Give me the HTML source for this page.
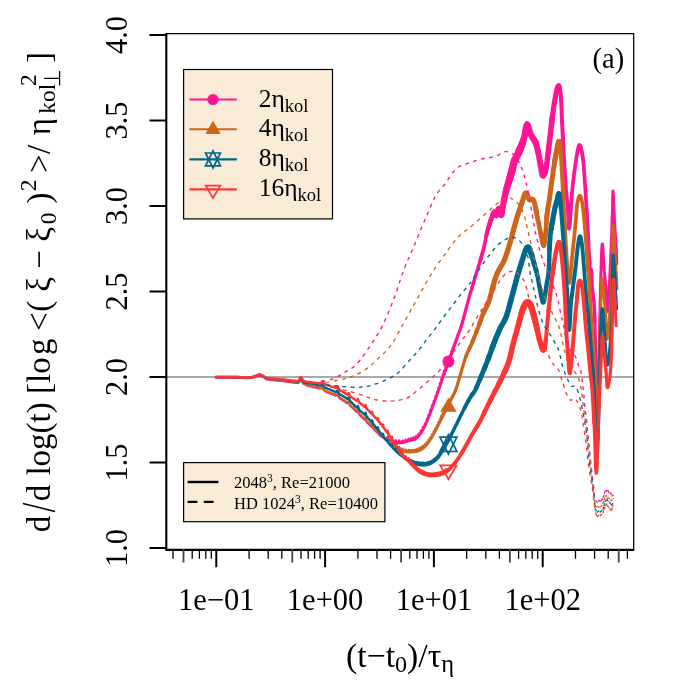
<!DOCTYPE html>
<html><head><meta charset="utf-8"><title>plot</title>
<style>html,body{margin:0;padding:0;background:#fff}svg{display:block;will-change:transform}text{font-family:"Liberation Serif",serif;fill:#000}</style></head><body>
<svg width="700" height="700" viewBox="0 0 700 700">
<rect x="0" y="0" width="700" height="700" fill="#fff"/>
<defs><clipPath id="c"><rect x="166.5" y="33.5" width="467" height="516"/></clipPath></defs>
<line x1="166" y1="377" x2="634" y2="377" stroke="#8c8c8c" stroke-width="1.5"/>
<g clip-path="url(#c)" fill="none" stroke-linejoin="round" stroke-linecap="round">
<path d="M216 377.7L218.1 377.7L221.1 377.7L224.6 377.7L228.3 377.8L231.8 377.8L235 377.8L237.8 377.8L240.7 377.9L243.4 378L245.9 378L248.1 378L250 378L251.4 377.9L252.4 377.7L253.1 377.5L253.7 377.3L254.3 377.1L255 376.9L255.8 376.7L256.6 376.4L257.4 376.1L258.2 375.8L258.9 375.6L259.7 375.6L260.4 375.7L261.2 376L261.9 376.3L262.6 376.7L263.3 377.1L264 377.5L264.6 377.8L265 378.2L265.5 378.6L266 378.9L266.6 379.2L267.4 379.5L268.4 379.7L269.5 379.8L270.8 380L272.1 380.1L273.6 380.2L275 380.3L276.5 380.4L278.1 380.6L279.7 380.8L281.4 380.9L283.2 381.1L285 381.3L287.1 381.6L289.3 381.9L291.7 382.3L293.9 382.6L295.9 382.8L297.4 382.9L298.4 382.8L298.9 382.6L299.1 382.3L299.2 382L299.3 381.6L299.5 381.3L299.8 381L300 380.6L300.2 380.2L300.4 379.9L300.6 379.7L300.9 379.7L301.2 380L301.5 380.5L301.8 381.2L302.1 381.9L302.5 382.6L302.8 383.1L303.1 383.4L303.4 383.7L303.7 383.9L304.1 384.1L304.5 384.3L305 384.5L305.6 384.8L306.3 385.1L307 385.4L307.9 385.7L308.9 386.1L310 386.4L311.4 386.7L313.2 387.1L315.1 387.5L316.9 387.8L318.5 388.1L319.7 388.3L320.5 388.4L320.9 388.5L321.1 388.5L321.2 388.5L321.3 388.4L321.5 388.3L321.7 388.1L322 387.7L322.2 387.2L322.4 386.9L322.6 386.7L322.8 386.7L323 387.1L323.1 387.7L323.3 388.5L323.5 389.3L323.8 390L324.3 390.7L325 391.2L325.9 391.7L326.9 392.1L327.9 392.5L329 392.9L330 393.3L331 393.7L332 394.1L333 394.5L334 394.9L334.9 395.3L335.6 395.7L335.7 395.6L336.3 395.1L336.7 394.7L337 394.5L337.4 394.2L337.5 394.1L338 395.1L338.8 396.9L339.3 397.9L339.9 398.3L341.3 399.2L342.9 400.2L344.5 401.3L346.2 402.5L347.3 403.3L347.9 402.7L348.8 401.9L349.6 404.3L350.2 405.8L351.5 407L353.4 408.7L355.2 410.5L356.7 411.9L357 411.5L357.9 410.5L358.6 412.9L359 414.2L360 415.2L361.2 416.4L362.4 417.5L363.5 418.6L364.5 419.6L364.6 419.5L365.5 418.1L365.7 418.9L366.5 421.7L366.9 422.1L368 423.2L369.2 424.4L370.4 425.5L371.1 426.3L371.6 425.5L372 424.8L372.9 428L374.3 429.4L375.7 431L377 432.4L377.1 432.1L377.8 430.9L378.6 434L378.6 434.1L380 435.5L381.4 436.6L382.2 437.1L382.7 435.9L382.9 435.3L383.6 437.9L383.9 438.1L385.2 438.6L386.4 439L386.9 439.2L387.5 437.3" stroke="#FF1493" stroke-width="2.25"/>
<path d="M386.9 439.2L387.5 437.3L387.6 437.1L388.2 439.6L388.6 439.8L389.6 440.3L390.6 440.8L391.2 441.1L391.5 440.1L391.8 439.1L392.3 441.6L392.4 441.6L393.3 442L394.3 442.3L395.1 442.5L395.4 441.3L395.6 440.3L396.2 442.7L396.6 442.7L397.8 442.9" stroke="#FF1493" stroke-width="2.5"/>
<path d="M396.6 442.7L397.8 442.9L398.7 442.9L399 441.8L399.2 440.7L399.7 443L400.2 443L401.4 442.9L402.1 442.8L402.5 440.8L402.6 441L403 442.6L403.8 442.4L405 442.1L405.2 442L405.6 440L406.1 441.7L406.2 441.7L407.4 441.3L408.2 441L408.6 439L408.6 439.2L409 440.8L409.8 440.6L410.9 440.3L411.1 439.5L411.3 438.3L411.7 440.1L412.3 439.9L413.5 439.5L413.9 437.5L414.3 439.3L414.7 439.1" stroke="#FF1493" stroke-width="2.75"/>
<path d="M414.3 439.3L414.7 439.1L415.7 438.6L416 438.4L416.4 436.3L416.6 437.3L416.7 437.9L417.3 437.4L418 436.8L418.4 436.3L418.7 434.3L418.7 434.1L419 435.6L419.3 435.2L420 434.3L420.6 433.4L420.7 432.7L420.9 431.1L421.2 432.5L421.4 432.2L422.1 431.1L422.8 430L422.9 429.1L423.1 427.6L423.4 428.9L423.6 428.5L424.3 427.1L424.8 426L425 424.5L425.1 423.9L425.4 424.8L425.7 424L426.4 422.4L426.8 421.6L427.1 419.4L427.2 419.8L427.3 420.3L427.9 418.9L428.6 417.1L428.7 416.9L428.9 414.8L429.2 415.6L429.3 415.3L430 413.4L430.5 412.3L430.7 410.1L430.8 410.2L431 410.9L431.5 409.6L432.2 407.6L432.2 407.5L432.5 405.4L432.7 406.2L432.9 405.7L433.6 403.7L433.9 403L434.1 400.9L434.4 401.7L434.4 401.6L435.2 399.5L435.5 398.6L435.8 396.5L435.9 397.1L436 397.4L436.6 395.8L437.1 394.3L437.3 392.2L437.5 392.8L437.5 393.1L437.7 392.6L437.8 392.3L438 391.8L438.2 391.1L438.6 390L438.6 389.9L438.8 387.8L439 388.7L439.1 388.4L439.8 386.5L440.1 385.5L440.3 383.3L440.5 384.2L440.5 384.2L441.3 381.9L441.5 381.1L441.7 379.1L441.9 380L442.1 379.5L442.9 377.1L442.9 377L443.1 375.1L443.3 376L443.8 374.7L444.2 373.3" stroke="#FF1493" stroke-width="3.0"/>
<path d="M443.8 374.7L444.2 373.3L444.4 371.3L444.6 372.3L444.6 372.2L445.6 369.7L445.6 369.6L445.8 367.7L445.9 368.7L446.5 367.1L446.8 366.2L447 364.3L447.2 365.3L447.6 364.3L447.6 364.2L447.6 364.2L447.7 363.9L448 363.1L448.6 361.4L449.7 358.4L451.1 354.4L452.7 349.9L454.3 345.4L455.7 341.4L457 338L458.1 334.8L459.3 331.8L460.4 328.8L461.4 325.7L462.3 322.6L463.2 319.4L464 316.3L464.9 313.1L465.7 310L466.6 306.8L467.4 303.7L468.3 300.5L469.1 297.4L470 294.3L470.8 291.4L471.7 288.7L472.5 286" stroke="#FF1493" stroke-width="3.25"/>
<path d="M471.7 288.7L472.5 286L473.4 283.1L474.3 280L475.4 276.5L476.5 272.7L477.8 268.8L478.9 265L480 261.4L481 258" stroke="#FF1493" stroke-width="3.5"/>
<path d="M480 261.4L481 258L481.9 254.8L482.8 251.7L483.6 248.7L484.3 245.7L484.9 242.8L485.5 240.1L485.9 237.4L486.5 234.7L487.1 232" stroke="#FF1493" stroke-width="3.75"/>
<path d="M486.5 234.7L487.1 232L487.9 229.2L488.8 226.3" stroke="#FF1493" stroke-width="4.0"/>
<path d="M487.9 229.2L488.8 226.3L489.7 223.5" stroke="#FF1493" stroke-width="4.25"/>
<path d="M488.8 226.3L489.7 223.5L490.6 220.8L491.4 218.6" stroke="#FF1493" stroke-width="4.5"/>
<path d="M490.6 220.8L491.4 218.6L492.1 216.7L492.7 215L493.3 213.6" stroke="#FF1493" stroke-width="4.75"/>
<path d="M492.7 215L493.3 213.6L493.8 212.6L494.3 212L494.8 212.2" stroke="#FF1493" stroke-width="5.0"/>
<path d="M494.3 212L494.8 212.2L495.2 213.2L495.6 214.4L496 215.3L496.4 215.5L496.9 214.6" stroke="#FF1493" stroke-width="5.25"/>
<path d="M496.4 215.5L496.9 214.6L497.3 212.9L497.8 210.9L498.3 209.3L498.8 208.6L499.3 209.4" stroke="#FF1493" stroke-width="5.5"/>
<path d="M498.8 208.6L499.3 209.4L499.7 211.3L500.2 213.5L500.7 215L501.2 215L501.8 213.1" stroke="#FF1493" stroke-width="5.75"/>
<path d="M501.2 215L501.8 213.1L502.4 209.8L503 205.8L503.7 201.8L504.3 198.5" stroke="#FF1493" stroke-width="6.0"/>
<path d="M503.7 201.8L504.3 198.5L504.9 195.9L505.4 193.7L505.9 191.6L506.4 189.5" stroke="#FF1493" stroke-width="6.25"/>
<path d="M505.9 191.6L506.4 189.5L507.1 187.1L507.9 184.4" stroke="#FF1493" stroke-width="6.5"/>
<path d="M507.1 187.1L507.9 184.4L508.8 181.5L509.7 178.5" stroke="#FF1493" stroke-width="6.75"/>
<path d="M508.8 181.5L509.7 178.5L510.6 175.6" stroke="#FF1493" stroke-width="7.0"/>
<path d="M509.7 178.5L510.6 175.6L511.4 172.9L512.1 170.3" stroke="#FF1493" stroke-width="7.25"/>
<path d="M511.4 172.9L512.1 170.3L512.7 167.8L513.2 165.5L513.7 163.3L514.3 161.4L514.8 160L515.4 158.9L515.9 158L516.4 157L517.1 155.7L517.9 154L518.8 151.9L519.7 149.8" stroke="#FF1493" stroke-width="7.5"/>
<path d="M518.8 151.9L519.7 149.8L520.6 147.7" stroke="#FF1493" stroke-width="7.25"/>
<path d="M519.7 149.8L520.6 147.7L521.4 145.7L522.1 144" stroke="#FF1493" stroke-width="7.0"/>
<path d="M521.4 145.7L522.1 144L522.7 142.4L523.2 140.8" stroke="#FF1493" stroke-width="6.75"/>
<path d="M522.7 142.4L523.2 140.8L523.7 139.1L524.3 137.1L524.9 134.4L525.4 131.2" stroke="#FF1493" stroke-width="6.5"/>
<path d="M524.9 134.4L525.4 131.2L525.9 128L526.5 125.5L527.1 124.3L527.7 124.9L528.4 126.7L529.1 129.3L529.9 132L530.7 134.3L531.6 136.1L532.7 137.7L533.8 139.3L534.8 141L535.7 142.9" stroke="#FF1493" stroke-width="6.25"/>
<path d="M534.8 141L535.7 142.9L536.4 145L537 147.3L537.6 149.6L538.1 152L538.6 154.3L539.1 156.6L539.5 158.9L539.9 161.2L540.3 163.5L540.7 165.7L541.2 168.1L541.6 170.8L542.1 173.3L542.6 175.1" stroke="#FF1493" stroke-width="6.0"/>
<path d="M542.1 173.3L542.6 175.1L543.2 175.8L543.8 175.4L544.4 174.1L545.1 172L545.7 169.2" stroke="#FF1493" stroke-width="5.75"/>
<path d="M545.1 172L545.7 169.2L546.4 165.7L547.1 161.1L547.8 155.4L548.6 149.1L549.3 142.8L550 137.1L550.6 131.9L551.2 126.8L551.8 121.9L552.3 117.2" stroke="#FF1493" stroke-width="5.5"/>
<path d="M551.8 121.9L552.3 117.2L552.9 112.9L553.5 108.9L554 105.2L554.6 101.7L555.1 98.6L555.7 95.7L556.3 92.9L556.9 90.3L557.5 88" stroke="#FF1493" stroke-width="5.25"/>
<path d="M556.9 90.3L557.5 88L558.1 86.4" stroke="#FF1493" stroke-width="5.0"/>
<path d="M557.5 88L558.1 86.4L558.6 85.7" stroke="#FF1493" stroke-width="4.75"/>
<path d="M558.1 86.4L558.6 85.7L559.1 85.9" stroke="#FF1493" stroke-width="4.5"/>
<path d="M558.6 85.7L559.1 85.9L559.5 86.8" stroke="#FF1493" stroke-width="4.25"/>
<path d="M559.1 85.9L559.5 86.8L559.9 88.5L560.3 91L560.7 94.3L561 98.7L561.3 104.3L561.6 110.5L561.8 116.9L562.1 122.9L562.4 128.5L562.7 134.1L563 139.7" stroke="#FF1493" stroke-width="4.0"/>
<path d="M562.7 134.1L563 139.7L563.3 145.4L563.6 151.4L564 157.8L564.4 164.6L564.8 171.4L565.3 178.1L565.7 184.3L566.1 190L566.6 195.4L567.1 200.6L567.5 205.4L567.9 210L568.2 215.1L568.5 220.6L568.7 225.5L568.9 228.6L569.3 228.6L569.8 224.6L570.3 217.3L570.9 208.3L571.5 199.2L572.1 191.4L572.8 185L573.5 178.9L574.2 173.1L575 167.8L575.7 162.9L576.4 158.1L577.1 153.5L577.9 149.4L578.6 146.4L579.3 145L580 145.4L580.8 147.3L581.6 150.4L582.3 154.1L582.9 158L583.4 162.3L583.8 167.1L584.2 172.5L584.6 178.2L585 184.3L585.5 190.9L585.9 198L586.4 205.4L586.9 212.8L587.3 220L587.7 227.2L588 234.6L588.4 241.8L588.7 248.5L589 254.3L589.3 259.2L589.6 263.5" stroke="#FF1493" stroke-width="3.75"/>
<path d="M589.3 259.2L589.6 263.5L589.8 267.1L590.1 270L590.3 272L590.5 272.5L590.7 271.6L590.9 270.3L591.1 269.4L591.3 270L591.5 272.4L591.7 276.1L591.9 280.3L592.1 284.7L592.4 288.6L592.7 291.8L593.1 294.7L593.4 297.6L593.8 300.9L594.1 305L594.4 310.1L594.6 315.8L594.8 322.1" stroke="#FF1493" stroke-width="3.5"/>
<path d="M594.6 315.8L594.8 322.1L595 328.6L595.2 335L595.4 340.9L595.7 346.4L595.9 352.3L596.2 359.4L596.4 368.6L596.6 382.4L596.9 400.3L597.1 418.4L597.4 432.9L597.6 440" stroke="#FF1493" stroke-width="3.25"/>
<path d="M597.4 432.9L597.6 440L597.8 437.7L598 428.4L598.2 415.3L598.4 401.5L598.6 390L598.8 381L598.9 372.5L599.1 364.2L599.2 355.8L599.4 347.1L599.5 338.1L599.7 329L599.8 319.7L600 310.1L600.2 300L600.5 288L600.9 274.2L601.3 260.8L601.7 250L602.1 244L602.5 244.3L603 249.4L603.4 257.1L603.9 265.1L604.3 271.4L604.7 275.6L605.1 279.3L605.4 282.8L605.8 286.2L606.1 290L606.4 294.9L606.7 300.8L607.1 306.4L607.4 310.5L607.7 311.8L608 309.8L608.4 305.3L608.7 299.2L609 292.1L609.4 285L609.8 277.3L610.2 268.6L610.6 259.5L611 250.7L611.3 242.9L611.6 236.3L611.8 230.5L612 225.2L612.1 220.1L612.3 215L612.5 209.2L612.6 202.8L612.7 197L612.8 192.7L613 191L613.2 192.8L613.5 197.5L613.7 203.6L614 209.9L614.2 215L614.4 218.9L614.6 222.5L614.8 225.8L615 229L615.2 232L615.4 234.8L615.6 237.2L615.8 239.6L615.9 242.1L616.1 245L616.3 248.7L616.4 253.1L616.6 257.5L616.7 261.3L616.8 264" stroke="#FF1493" stroke-width="3.0"/>
<path d="M216 377L218.1 377L221.1 377L224.6 377L228.3 377.1L231.8 377.1L235 377.1L237.8 377.1L240.7 377.2L243.4 377.3L245.9 377.3L248.1 377.3L250 377.3L251.4 377.2L252.4 377L253.1 376.8L253.7 376.6L254.3 376.4L255 376.2L255.8 376L256.6 375.7L257.4 375.4L258.2 375.1L258.9 374.9L259.7 374.9L260.4 375L261.2 375.3L261.9 375.6L262.6 376L263.3 376.4L264 376.8L264.6 377.1L265 377.5L265.5 377.9L266 378.2L266.6 378.5L267.4 378.8L268.4 379L269.5 379.1L270.8 379.3L272.1 379.4L273.6 379.5L275 379.6L276.5 379.7L278.1 379.9L279.7 380.1L281.4 380.2L283.2 380.4L285 380.6L287.1 380.9L289.3 381.2L291.7 381.6L293.9 381.9L295.9 382.1L297.4 382.2L298.4 382.1L298.9 381.9L299.1 381.6L299.2 381.3L299.3 380.9L299.5 380.6L299.8 380.3L300 379.9L300.2 379.5L300.4 379.2L300.6 379L300.9 379L301.2 379.3L301.5 379.8L301.8 380.5L302.1 381.2L302.5 381.9L302.8 382.4L303.1 382.7L303.4 383L303.7 383.2L304.1 383.4L304.5 383.6L305 383.8L305.6 384.1L306.3 384.4L307 384.7L307.9 385L308.9 385.4L310 385.7L311.4 386L313.2 386.4L315.1 386.8L316.9 387.1L318.5 387.4L319.7 387.6L320.5 387.7L320.9 387.8L321.1 387.8L321.2 387.8L321.3 387.7L321.5 387.6L321.7 387.4L322 387L322.2 386.5L322.4 386.2L322.6 386L322.8 386L323 386.4L323.1 387L323.3 387.8L323.5 388.6L323.8 389.3L324.3 390L325 390.5L325.9 391L326.9 391.4L327.9 391.8L329 392.2L330 392.6L331 393L332 393.4L333 393.8L334 394.2L334.9 394.6L335.6 395L335.7 394.9L336.3 394.4L336.7 394L337 393.8L337.4 393.5L337.5 393.4L338 394.4L338.8 396.2L339.3 397.2L339.9 397.6L341.3 398.4L342.9 399.4L344.5 400.5L346.2 401.6L347.3 402.4L347.9 401.8L348.8 401L349.6 403.4L350.2 404.9L351.5 406L353.4 407.8L355.2 409.6L356.7 411L357 410.6L357.9 409.6L358.6 412L359 413.3L360 414.3L361.2 415.5L362.4 416.6L363.5 417.7L364.5 418.7L364.6 418.6L365.5 417.2L365.7 418L366.5 420.8L366.9 421.2L368 422.3L369.2 423.5L370.4 424.6L371.1 425.4L371.6 424.6L372 423.9L372.9 427.1L374.3 428.5L375.7 430L377 431.3L377.1 431.1L377.8 429.8L378.6 432.9L378.6 433L380 434.4L381.4 435.7L382.2 436.4L382.7 435.4L382.9 434.8L383.6 437.6L383.9 437.8L385 438.7L386.1 439.6L386.9 440.2L387.3 439L387.6 438.4L388.2 441.2" stroke="#CD661D" stroke-width="2.25"/>
<path d="M387.6 438.4L388.2 441.2L388.6 441.5L390 442.6L391.2 443.5L391.4 442.9L391.8 441.7L392.3 444.4L392.9 444.8L394.3 446L395.1 446.5L395.6 444.6L395.7 445.1L396.2 447.3L397.1 447.9L398.4 448.7L398.7 448.9L399.2 446.9L399.6 448.9L399.7 449.4L400.8 450L402 450.5" stroke="#CD661D" stroke-width="2.5"/>
<path d="M400.8 450L402 450.5L402.1 450.6L402.5 448.9L403 451L403.1 451L404.3 451.4L405.2 451.6L405.5 450.5L405.6 449.8L406.1 451.8L406.7 451.9L407.9 452.1L408.2 452.1L408.6 450.2L409 452.1L409 452.1L410.2 452.1L410.9 452.1L411.3 450.2L411.4 450.6L411.7 452.1L412.6 452L413.5 451.9L413.9 450.3L413.9 450L414.3 451.8L415.1 451.7L416 451.5L416.3 449.8L416.4 449.5L416.7 451.3L417.5 451.1" stroke="#CD661D" stroke-width="2.75"/>
<path d="M416.7 451.3L417.5 451.1L418.4 450.8L418.6 449.4L418.7 448.8L419 450.5L419.6 450.3L420.6 449.8L420.6 449.8L420.9 447.7L421.2 449.4L421.5 449.3L422.5 448.6L422.8 448.4L423.1 446.3L423.4 447.9L423.4 447.9L424.3 447.1L424.8 446.6L425.1 444.8L425.2 445.5L425.4 446L426.2 445.1L426.8 444.4L427.1 442.6L427.1 443L427.3 443.7L428.1 442.7L428.7 441.9L428.9 440.1L429.1 440.6L429.2 441.2L430 440L430.5 439.3L430.7 437.4L430.9 438.4L431 438.5L431.9 436.9L432.2 436.4L432.5 434.5L432.7 435.5L432.9 435.3L433.8 433.5L433.9 433.4L434.1 431.4L434.4 432.5L434.8 431.8L435.5 430.3L435.7 428.9L435.8 428.4L436 429.5L436.6 428.2L437.1 427.3L437.3 425.4L437.5 426.4L437.6 426.3L438.6 424.4L438.6 424.2L438.8 422.3L439 423.4L439.5 422.5L440.1 421.3L440.3 419.3L440.4 420.1L440.5 420.4L441.4 418.6L441.5 418.4L441.7 416.5" stroke="#CD661D" stroke-width="3.0"/>
<path d="M441.5 418.4L441.7 416.5L441.9 417.5L442.4 416.6L442.9 415.5L443.1 413.7L443.3 414.8L443.4 414.7L444.2 412.8L444.3 412L444.4 411L444.6 412.1L445.3 410.7L445.6 410.2L445.8 408.3L445.9 409.4L446.2 408.8L446.8 407.6L447 405.8L447.1 406.3L447.2 406.9L447.9 405.5L448.4 404.6L449 403.3L449.8 401.8L450.6 400.2L451.4 398.6L452.2 397.1L453.1 395.6L453.9 393.9L454.8 392.1L455.7 390L456.5 387.6L457.4 384.9L458.2 382L459.1 378.9L460 375.7L461.1 372.2L462.2 368.3L463.4 364.3L464.5 360.5L465.7 357.1L466.8 354.2" stroke="#CD661D" stroke-width="3.25"/>
<path d="M465.7 357.1L466.8 354.2L468 351.6L469.1 349.2L470.3 346.9" stroke="#CD661D" stroke-width="3.5"/>
<path d="M469.1 349.2L470.3 346.9L471.4 344.3L472.5 341.6L473.7 338.8" stroke="#CD661D" stroke-width="3.75"/>
<path d="M472.5 341.6L473.7 338.8L474.8 335.9L476 333L477.1 330" stroke="#CD661D" stroke-width="4.0"/>
<path d="M476 333L477.1 330L478.3 326.9L479.4 323.7L480.6 320.4" stroke="#CD661D" stroke-width="4.25"/>
<path d="M479.4 323.7L480.6 320.4L481.7 317.2L482.9 314.3L484.1 311.7" stroke="#CD661D" stroke-width="4.5"/>
<path d="M482.9 314.3L484.1 311.7L485.3 309.3L486.4 307L487.6 304.6L488.6 302" stroke="#CD661D" stroke-width="4.75"/>
<path d="M487.6 304.6L488.6 302L489.6 299.1L490.4 295.9L491.3 292.7L492.1 289.5L492.9 286.5" stroke="#CD661D" stroke-width="5.0"/>
<path d="M492.1 289.5L492.9 286.5L493.7 283.7L494.4 281.1L495.2 278.6L496.1 276.1L497.1 273.5L498.4 270.9L499.8 268.3L501.4 265.7L502.9 262.9L504.3 260L505.6 256.7L506.8 253.2L508 249.6L509 246.1L510 242.9L510.8 240.1L511.6 237.4L512.2 235L512.8 232.5L513.5 230L514.2 227.4L514.9 224.8L515.6 222.3L516.3 219.7L517.1 217.1L517.9 214.5L518.8 211.9L519.6 209.3L520.5 206.8L521.4 204.3L522.3 201.6L523.2 198.8L524 196.1L524.9 194L525.7 192.9L526.5 193.2L527.2 194.5L527.8 196.4L528.5 198.3L529.3 199.5L530.1 199.8L531 199.6L531.9 199.3L532.8 199.5" stroke="#CD661D" stroke-width="5.25"/>
<path d="M531.9 199.3L532.8 199.5L533.6 200.5L534.4 202.6L535.1 205.6L535.8 209L536.5 212.5" stroke="#CD661D" stroke-width="5.0"/>
<path d="M535.8 209L536.5 212.5L537.1 215.7L537.7 218.7L538.4 221.8L539 224.8L539.5 227.6L540 230L540.4 231.8L540.6 233.2L540.9 234.4L541.1 235.6L541.4 237L541.8 238.9L542.2 241.3L542.7 243.5L543.2 245.2L543.6 245.7L544 245L544.4 243.3L544.8 240.9L545.1 238.1L545.5 235L545.8 231.4L546.1 227.1L546.4 222.6L546.7 218.2L547.1 214.3" stroke="#CD661D" stroke-width="4.75"/>
<path d="M546.7 218.2L547.1 214.3L547.5 211.1L547.9 208.2L548.4 205.5L548.9 202.8L549.3 200L549.7 197.2L550 194.4L550.4 191.6L550.8 188.3L551.4 184.3L552.1 179.2L553 173.1L553.9 166.7L554.8 160.7L555.7 155.7" stroke="#CD661D" stroke-width="5.0"/>
<path d="M554.8 160.7L555.7 155.7L556.5 151.4L557.3 147.2L558 143.9L558.7 141.7" stroke="#CD661D" stroke-width="5.25"/>
<path d="M558 143.9L558.7 141.7L559.3 141.4" stroke="#CD661D" stroke-width="5.0"/>
<path d="M558.7 141.7L559.3 141.4L559.8 143.3" stroke="#CD661D" stroke-width="4.75"/>
<path d="M559.3 141.4L559.8 143.3L560.3 147.1" stroke="#CD661D" stroke-width="4.5"/>
<path d="M559.8 143.3L560.3 147.1L560.7 152.1" stroke="#CD661D" stroke-width="4.25"/>
<path d="M560.3 147.1L560.7 152.1L561 157.6L561.4 162.9L561.7 168L562 173.4L562.3 179L562.6 185L562.9 191.4L563.3 198.3L563.7 205.7L564.1 213.4L564.6 221.1L565 228.6" stroke="#CD661D" stroke-width="4.0"/>
<path d="M564.6 221.1L565 228.6L565.4 236.1L565.8 243.8L566.3 251.3L566.7 258.3L567.1 264.3L567.5 269.8L567.9 275.1L568.4 279.5L568.8 282.3L569.3 282.9L569.8 280.7L570.3 276.3L570.9 270.3L571.5 263.6L572.1 257.1L572.8 250.3L573.6 242.7L574.4 234.9L575.1 227.6L575.7 221.4L576.1 216.5L576.4 212.5L576.7 209.1L576.9 206.1L577.3 203.5L577.8 201L578.3 198.8L578.9 197.1L579.4 196L580 195.7L580.5 196.4L581.1 197.8L581.6 199.9L582.2 202.6L582.7 205.7L583.2 209.4L583.7 213.7L584.1 218.4L584.6 223.5L585 228.6L585.4 233.9L585.8 239.6L586.3 245.4L586.7 251.3L587.1 257.1L587.5 262.5L587.9 267.6L588.4 272.9L588.8 278.8L589.3 285.7L589.8 294L590.4 303.5L590.9 313.4L591.5 323.4L592.1 332.9L592.7 341.7L593.3 350.3" stroke="#CD661D" stroke-width="3.75"/>
<path d="M592.7 341.7L593.3 350.3L594 358.7L594.5 367.1L595 375.7L595.4 384.7L595.6 394L595.8 403.2" stroke="#CD661D" stroke-width="3.5"/>
<path d="M595.6 394L595.8 403.2L596 412L596.2 420L596.4 428L596.6 436.4L596.8 443.7L597 448.7L597.2 450L597.4 446.2L597.6 438.1L597.8 427.9L598 417.8L598.2 410L598.4 405.4L598.5 402.7L598.7 400.2L598.8 396.5" stroke="#CD661D" stroke-width="3.25"/>
<path d="M598.7 400.2L598.8 396.5L599 390L599.2 379.5L599.4 366.1L599.6 351.5L599.8 337.4L600 325.7L600.3 316.4L600.6 308.2L600.9 301.2L601.2 295.2L601.4 290L601.6 285.7L601.7 282.3L601.8 279.9L601.9 278.5L602.1 278L602.3 278.6L602.6 280.3L602.9 282.9L603.2 286.2L603.6 290L604 294.8L604.4 300.6L604.9 307L605.3 313.1L605.7 318.6L606 323.9L606.3 329.3L606.5 334.2L606.8 337.7L607.1 339L607.5 337.7L607.9 334.2L608.4 329.3L608.9 323.9L609.3 318.6L609.7 314L610.2 309.4L610.6 304.4L611 298.1L611.4 290L611.7 278.1L612.1 262.8L612.4 247L612.7 233.9L613 226.3L613.4 225.5L613.8 229.6L614.2 236.6L614.6 244.7L615 252L615.4 259.2L615.9 267.6L616.3 276.1L616.7 283.4L617 288.6" stroke="#CD661D" stroke-width="3.0"/>
<path d="M216 377L218.1 377L221.1 377L224.6 377L228.3 377.1L231.8 377.1L235 377.1L237.8 377.1L240.7 377.2L243.4 377.3L245.9 377.3L248.1 377.3L250 377.3L251.4 377.2L252.4 377L253.1 376.9L253.7 376.6L254.3 376.4L255 376.2L255.8 375.9L256.6 375.6L257.4 375.3L258.2 375L258.9 374.8L259.7 374.7L260.4 374.8L261.2 375.1L261.9 375.4L262.6 375.8L263.3 376.2L264 376.6L264.6 376.9L265 377.3L265.5 377.6L266 378L266.6 378.3L267.4 378.5L268.4 378.7L269.5 378.8L270.8 378.9L272.1 378.9L273.6 379L275 379.1L276.5 379.2L278.1 379.4L279.7 379.5L281.4 379.7L283.2 379.8L285 380L287.1 380.2L289.3 380.5L291.7 380.9L293.9 381.1L295.9 381.3L297.4 381.4L298.4 381.3L298.9 381.1L299.1 380.8L299.2 380.5L299.3 380.1L299.5 379.8L299.8 379.5L300 379L300.2 378.6L300.4 378.3L300.6 378L300.9 378L301.2 378.2L301.5 378.7L301.8 379.3L302.1 379.9L302.4 380.5L302.8 381L303.1 381.4L303.4 381.7L303.6 381.9L304 382.1L304.4 382.4L305.1 382.6L306 382.8L307 383L308.2 383.2L309.5 383.4L310.8 383.6L312 383.8L313.3 384.1L314.7 384.4L316.2 384.7L317.5 385L318.8 385.2L319.7 385.4L320.4 385.5L320.8 385.5L321 385.4L321.2 385.3L321.3 385.2L321.5 385L321.7 384.7L322 384.4L322.2 383.9L322.4 383.6L322.6 383.4L322.8 383.4L323 383.7L323.1 384.3L323.3 385L323.5 385.7L323.8 386.4L324.3 387L325 387.5L325.9 387.9L326.9 388.4L327.9 388.8L329 389.2L330 389.6L331 390L332 390.5L333 390.9L334 391.3L334.9 391.7L335.6 392.1L335.7 392L336.3 391.5L336.7 391.1L337 390.7L337.4 390.4L337.5 390.4L338 391.3L338.8 393L339.3 394L339.9 394.4L341.3 395.1L342.9 396L344.5 397L346.2 398.1L347.3 398.9L347.9 398.2L348.8 397.4L349.6 399.8L350.2 401.2L351.5 402.4L353.4 404.3L355.2 406.1L356.7 407.4L357 407L357.9 406L358.6 408.4L359 409.7L360 410.6L361.2 411.6L362.4 412.6L363.5 413.6L364.5 414.5L364.6 414.3L365.5 412.9L365.7 413.7L366.5 416.5L366.9 416.9L368.1 418.3L369.4 419.6L370.6 421L371.1 421.6L371.8 420.6L372 420.3L372.9 423.6L373.9 424.8L374.9 426L375.8 427.2L376.8 428.4L377 428.7L377.7 427.6L377.8 427.4L378.6 430.6L378.6 430.7L379.6 431.9L380.5 433.1L381.4 434.3L382.2 435.3L382.4 434.9L382.9 433.9L383.4 435.8L383.6 437L384.3 437.9L385.2 439.1L386.1 440.2L386.9 441.2L387.1 440.8L387.6 439.7L388 441.8L388.2 442.7L389 443.6L390 444.8L391.1 446L391.2 446.1L391.8 444.4L392.3 447L392.3 447.3L393.5 448.5L394.7 449.7L395.1 450.2L395.6 448.4L395.9 449.7L396.2 451.2" stroke="#00688B" stroke-width="2.5"/>
<path d="M395.9 449.7L396.2 451.2L397 452L398.1 453L398.7 453.5L399.1 452.1L399.2 451.7L399.7 454.4L400.1 454.7L401.1 455.5L402.1 456.3L402.1 456.3L402.5 454.8L403 457L403.9 457.7L404.7 458.3L405.2 458.7L405.5 457.7L405.6 457.1L406.1 459.3L406.3 459.4L407.1 460L408 460.5L408.2 460.6L408.6 459L408.9 461" stroke="#00688B" stroke-width="2.75"/>
<path d="M408.6 459L408.9 461L409 461.1L409.9 461.6L410.9 462.2L411.3 460.5L411.7 462.6L412 462.7L413.1 463.2L413.5 463.3L413.9 461.6L414.3 463.6L414.3 463.6L415.6 464L416 464.1L416.4 462.3L416.7 464.2L417.1 464.3L418.4 464.5L418.6 463.6L418.7 462.7L419 464.7L420.1 464.8L420.6 464.9L420.9 463L421.2 464.9L421.5 464.9" stroke="#00688B" stroke-width="3.0"/>
<path d="M421.2 464.9L421.5 464.9L422.8 465L422.9 464.1L423.1 463.1L423.4 465L424.2 465L424.8 464.9L425.1 463.4L425.4 464.9L426.5 464.7L426.8 464.6L427.1 463.1L427.3 464.5L427.7 464.4L428.7 464.1L428.8 463.1L428.9 462.5L429.2 463.9L430 463.6L430.5 463.4L430.7 461.8L431 463.1L431.2 463L432.2 462.4L432.4 461.1L432.5 460.8L432.7 462.1L433.6 461.6L433.9 461.4L434.1 459.7L434.4 461L434.8 460.7L435.5 460L435.8 458.4L436 459.7L436 459.7L437.1 458.6L437.3 456.9L437.5 458.1L438.1 457.4L438.6 456.7L438.8 455L439 456.2L439.1 456.1L440.1 454.6L440.3 452.8L440.5 453.9L441 453.1L441.5 452.3L441.7 450.5L441.9 451.6L441.9 451.6L442.9 450" stroke="#00688B" stroke-width="3.25"/>
<path d="M441.9 451.6L442.9 450L442.9 450L443.1 448.2L443.3 449.3L443.9 448.4L444.2 447.8L444.4 446L444.6 447.1L444.8 446.8L445.6 445.5L445.8 443.7L445.8 443.8L445.9 444.8L446.7 443.5L446.8 443.2L447 441.4L447.2 442.6L447.6 441.8L447.7 441.7L447.7 441.6L447.8 441.5L448.1 441L448.6 440L449.4 438.3L450.5 436.1L451.8 433.6L453.1 431L454.3 428.6L455.4 426.3L456.6 424L457.7 421.7L458.9 419.4L460 417.1L461.1 414.8L462.3 412.5L463.4 410.2L464.6 407.9L465.7 405.7" stroke="#00688B" stroke-width="3.5"/>
<path d="M464.6 407.9L465.7 405.7L466.9 403.5L468.1 401.4L469.2 399.3" stroke="#00688B" stroke-width="3.75"/>
<path d="M468.1 401.4L469.2 399.3L470.4 397.4L471.4 395.7L472.3 394.4L473 393.5" stroke="#00688B" stroke-width="4.0"/>
<path d="M472.3 394.4L473 393.5L473.7 392.7L474.4 391.6L475.3 390L476.4 387.7L477.5 385" stroke="#00688B" stroke-width="4.25"/>
<path d="M476.4 387.7L477.5 385L478.8 382L480.1 378.9L481.4 375.7" stroke="#00688B" stroke-width="4.5"/>
<path d="M480.1 378.9L481.4 375.7L482.7 372.5L484.1 369.2L485.5 365.8" stroke="#00688B" stroke-width="4.75"/>
<path d="M484.1 369.2L485.5 365.8L486.9 362.4L488.2 359L489.4 355.7" stroke="#00688B" stroke-width="5.0"/>
<path d="M488.2 359L489.4 355.7L490.7 352.3L491.8 348.9L493 345.7" stroke="#00688B" stroke-width="5.25"/>
<path d="M491.8 348.9L493 345.7L494.2 342.5L495.4 339.4L496.7 336.3L497.9 333.4L499.1 330.6L500.3 328L501.4 325.8L502.6 323.8L503.7 322L504.7 320.2L505.7 318L506.6 315.5L507.4 312.9L508.2 310.2L509 307.4L509.8 304.5L510.6 301.6L511.4 298.5L512.2 295.4L513 292.4L513.8 289.5L514.5 286.8L515.2 284.1L515.9 281.6L516.6 279L517.3 276.4L518.1 273.7L518.9 271L519.7 268.3L520.6 265.6L521.4 262.9L522.3 260.1L523.2 257.2L524.1 254.4L525 251.9L525.7 250L526.3 248.7L526.7 247.8L527.1 247.4L527.5 247.1L527.9 247.1L528.3 247.1L528.6 247.3L529 247.7L529.4 248.6L530 250L530.7 252.2L531.6 255" stroke="#00688B" stroke-width="5.5"/>
<path d="M530.7 252.2L531.6 255L532.6 258.2" stroke="#00688B" stroke-width="5.25"/>
<path d="M531.6 255L532.6 258.2L533.5 261.4L534.3 264.3" stroke="#00688B" stroke-width="5.0"/>
<path d="M533.5 261.4L534.3 264.3L535 266.7L535.7 269L536.3 271.1" stroke="#00688B" stroke-width="4.75"/>
<path d="M535.7 269L536.3 271.1L536.9 273.4L537.5 276L538.1 279L538.7 282.4L539.3 285.8L539.9 289.1L540.5 292L541 294.7L541.6 297.4L542.1 299.8L542.5 301.6L543 302.5L543.4 302.3L543.8 301.3L544.2 299.7L544.5 297.7L544.9 295.7L545.3 293.5L545.7 291L546.1 288.3L546.5 285.6L546.9 282.9L547.3 280.7L547.7 278.8L548.1 276.7L548.4 274L548.8 270L549.1 264.3L549.3 257.3L549.5 249.7L549.8 242.3" stroke="#00688B" stroke-width="4.5"/>
<path d="M549.5 249.7L549.8 242.3L550.3 235.7L551 230L551.8 224.6" stroke="#00688B" stroke-width="4.75"/>
<path d="M551 230L551.8 224.6L552.7 219.7" stroke="#00688B" stroke-width="5.0"/>
<path d="M551.8 224.6L552.7 219.7L553.5 215.3L554.3 211.4L554.9 208.2L555.5 205.6L556.1 203.5L556.6 201.7L557.1 200L557.6 198.1L558 196.1L558.5 194.5" stroke="#00688B" stroke-width="5.25"/>
<path d="M558 196.1L558.5 194.5L558.9 193.7" stroke="#00688B" stroke-width="5.0"/>
<path d="M558.5 194.5L558.9 193.7L559.3 194.3L559.7 196.5" stroke="#00688B" stroke-width="4.75"/>
<path d="M559.3 194.3L559.7 196.5L560.1 200" stroke="#00688B" stroke-width="4.5"/>
<path d="M559.7 196.5L560.1 200L560.6 204.4L561 209.3" stroke="#00688B" stroke-width="4.25"/>
<path d="M560.6 204.4L561 209.3L561.4 214.3L561.8 219.5L562.3 225.1L562.7 231.1L563.2 237L563.6 242.9L564 248.5L564.4 254.1L564.9 259.6L565.3 265.4L565.7 271.4L566.1 277.9L566.6 284.9L567.1 291.9L567.5 298.7L567.9 305L568.2 311.4L568.5 318L568.8 324L569 328.3L569.3 330L569.6 328L569.9 323.1L570.2 316.7L570.5 310.2L570.8 305L571.1 301.4L571.5 298.5L571.8 295.8L572.2 293.1L572.6 290L573 286.6L573.5 283.2L574 279.5L574.5 275.6L575 271.4L575.6 266.5L576.2 260.8L576.8 255.1L577.4 249.9L577.9 245.7L578.4 242.5L578.8 239.9L579.2 238L579.6 236.8L580 236.4L580.4 236.8" stroke="#00688B" stroke-width="4.0"/>
<path d="M580 236.4L580.4 236.8L580.8 238L581.3 239.9L581.7 242.5L582.1 245.7L582.5 249.7L583 254.7L583.4 260.1L583.9 265.8L584.3 271.4L584.7 277.1L585.1 283.1L585.6 289.1L586 294.9L586.4 300L586.8 304.1L587.2 307.3L587.7 310.4L588.1 313.9L588.6 318.6L589.1 324.8L589.7 332L590.3 339.7L590.9 347.3L591.4 354.3L591.9 360.3L592.3 365.6L592.8 370.8L593.2 376.4L593.6 382.9L594 390.6L594.4 399.2" stroke="#00688B" stroke-width="3.75"/>
<path d="M594 390.6L594.4 399.2L594.8 408.2L595.2 416.9L595.5 425L595.8 433.3L596.1 442.3L596.4 450.3L596.7 456.1L597 458" stroke="#00688B" stroke-width="3.5"/>
<path d="M596.7 456.1L597 458L597.3 454.8L597.7 447.5L598 438L598.3 428.2L598.6 420L598.8 413.7L599 408L599.1 402.5L599.3 396.7L599.4 390L599.5 382.2L599.7 373.6L599.8 364.6L600 355.6L600.2 347.1L600.5 338.1L600.9 328.4L601.3 319.3L601.7 312.2L602.1 308.6L602.5 309.4L603 313.7L603.4 320.1L603.9 326.9L604.3 332.9L604.7 338.3L605.2 344L605.6 349.7L606 354.7L606.4 358.6L606.7 361.4L607 363.4L607.3 364.6L607.6 364.9L607.9 364.3L608.3 362.6L608.7 360L609.1 356.4L609.6 352.1L610 347.1L610.4 341.5L610.9 335.1L611.3 328L611.8 320.1L612.1 311.4L612.3 300.2L612.5 286.6L612.6 273L612.8 261.8L613 255.4L613.3 255.1L613.7 259.2L614.2 266L614.6 273.5L615 280" stroke="#00688B" stroke-width="3.25"/>
<path d="M614.6 273.5L615 280L615.4 286L615.7 292.7L616.1 299.3L616.4 305L616.6 309" stroke="#00688B" stroke-width="3.0"/>
<path d="M216 377L218.1 377L221.1 377L224.6 377L228.3 377.1L231.8 377.1L235 377.1L237.8 377.1L240.7 377.2L243.4 377.3L245.9 377.3L248.1 377.3L250 377.3L251.4 377.2L252.4 377.1L253.1 376.9L253.7 376.7L254.3 376.4L255 376.2L255.8 375.9L256.6 375.5L257.4 375.2L258.2 374.8L258.9 374.6L259.7 374.5L260.4 374.6L261.2 374.9L261.9 375.3L262.6 375.7L263.3 376.1L264 376.5L264.6 376.8L265 377.2L265.5 377.5L266 377.8L266.6 378.1L267.4 378.3L268.4 378.5L269.5 378.6L270.8 378.7L272.1 378.7L273.6 378.8L275 378.9L276.5 379L278.1 379.1L279.7 379.3L281.4 379.4L283.2 379.5L285 379.7L287.1 379.9L289.3 380.2L291.7 380.5L293.9 380.7L295.9 380.9L297.4 380.9L298.4 380.8L298.9 380.6L299.1 380.2L299.2 379.9L299.3 379.5L299.5 379.2L299.8 378.8L300 378.3L300.2 377.9L300.4 377.4L300.6 377.2L300.9 377.1L301.2 377.3L301.5 377.7L301.8 378.3L302.1 379L302.4 379.5L302.8 380L303.1 380.3L303.4 380.6L303.6 380.8L304 381L304.4 381.2L305.1 381.4L306 381.6L307 381.8L308.2 381.9L309.5 382.1L310.8 382.2L312 382.4L313.3 382.6L314.7 382.8L316.2 383L317.5 383.2L318.8 383.3L319.7 383.4L320.4 383.4L320.8 383.3L321 383.1L321.2 382.9L321.3 382.7L321.5 382.5L321.8 382.2L322 381.9L322.2 381.5L322.4 381.1L322.6 380.9L322.8 380.9L322.9 381.1L323 381.5L323.1 382L323.2 382.6L323.5 383.1L324 383.6L324.7 384L325.7 384.4L326.7 384.9L327.8 385.2L329 385.6L330 386L331 386.4L332 386.7L333 387L334 387.3L334.9 387.6L335.6 387.9L335.7 387.8L336.3 387.2L336.6 386.9L336.9 386.6L337.3 386.3L337.5 386.2L337.8 386.7L338.6 388.4L339.3 389.8L339.8 390.1L341.2 390.9L342.8 391.8L344.5 392.9L346.2 393.9L347.3 394.6L347.9 393.9L348.8 393L349.6 395.1L350.2 396.4L351.5 397.3L353.4 398.5L355.2 399.8L356.7 400.7L357 400.2L357.9 399L358.6 401.2L359 402.4L360 403.1L361.2 404.1L362.4 405L363.5 405.9L364.5 406.8L364.6 406.6L365.5 405.1L365.7 405.9L366.5 408.6L366.9 409L368.1 410.2L369.4 411.4L370.6 412.6L371.1 413.2L371.8 412.2L372 411.8L372.9 415L373.9 416.1L374.9 417.2L375.8 418.2L376.8 419.2L377 419.5L377.7 418.4L377.8 418.1L378.6 421.4L378.6 421.4L379.5 422.5L380.4 423.6L381.4 424.8L382.2 425.9L382.3 425.7L382.9 424.5L383.3 426.1L383.6 427.7L384.3 428.6L385.4 430.1L386.6 431.8L386.9 432.2L387.6 430.8L387.9 432.3L388.2 434L389.1 435.3L390.3 437L391.2 438.3L391.4 437.8" stroke="#FF3535" stroke-width="2.5"/>
<path d="M391.2 438.3L391.4 437.8L391.8 436.8L392.3 440L392.4 440.1L393.4 441.5L394.3 442.9L395.1 444.1L395.2 443.7L395.6 442.6L396.2 445.7L396.2 445.7L397.1 447.1L398.1 448.6L398.7 449.6L399.1 448.6L399.2 448.1" stroke="#FF3535" stroke-width="2.75"/>
<path d="M399.1 448.6L399.2 448.1L399.7 451.1L400 451.6L401 453.1L402 454.5L402.1 454.6L402.5 453.3L402.9 455.3L403 455.8L403.8 456.7L404.6 457.5L405.2 458.1L405.4 457.3L405.6 456.5L406.1 458.8L406.2 458.9L407.1 459.6L408 460.5L408.2 460.7L408.6 459.2L409 461.5L410 462.6" stroke="#FF3535" stroke-width="3.0"/>
<path d="M409 461.5L410 462.6L410.9 463.6L411 463.3L411.3 462.2L411.7 464.4L412.1 464.9L413.2 466L413.5 466.4L413.9 464.8L414.3 467.1L414.3 467.1L415.4 468.2L416 468.7L416.4 467.1L416.6 468.6L416.7 469.3L417.8 470.3L418.4 470.7L418.7 469.1L419 471.1L419 471.3L420.2 472.1" stroke="#FF3535" stroke-width="3.25"/>
<path d="M419 471.3L420.2 472.1L420.6 472.4L420.9 470.7L421.2 472.8L421.4 472.9L422.6 473.5L422.8 473.6L423.1 471.8L423.4 473.9L423.8 474L424.8 474.4L425 473.5L425.1 473L425.4 474.6L426.2 474.8L426.8 474.9L427.1 473.5L427.3 475.1L427.4 475.1L428.6 475.3L428.7 475.3L428.9 473.9L429.2 475.4L429.8 475.5L430.5 475.5L430.7 474L431 475.5L431 475.5L432.1 475.6L432.2 475.5L432.5 474.1L432.7 475.5L433.3 475.5L433.9 475.5L434.1 474L434.4 475.4L434.5 475.4L435.5 475.3L435.7 474.2L435.8 473.8L436 475.3L436.9 475.2L437.1 475.1L437.3 473.6L437.5 475.1" stroke="#FF3535" stroke-width="3.5"/>
<path d="M437.3 473.6L437.5 475.1L438.1 475L438.6 474.9L438.8 473.4L439 474.8L439.3 474.8L440.1 474.6L440.3 473L440.5 474.4L441.5 474.2L441.7 472.8L441.7 472.6L441.9 474L442.9 473.6L442.9 473.6L443.1 472L443.3 473.4L444.1 473L444.2 472.9L444.4 471.3L444.6 472.7L445.3 472.3L445.6 472.1L445.8 470.5L445.9 471.9L446.5 471.5L446.8 471.2L447 469.6L447.2 471L447.6 470.7L447.9 470.5L448.2 470.3L448.6 470L449.2 469.5L450 468.6L451.1 467.3L452.5 465.8L454 464L455.6 462L457.1 460L458.5 457.9L460 455.7L461.4 453.4L462.9 451" stroke="#FF3535" stroke-width="3.75"/>
<path d="M461.4 453.4L462.9 451L464.3 448.6L465.7 446.1L467.1 443.6L468.5 441L469.9 438.4L471.4 435.7L473.1 432.9L474.9 429.9L476.7 426.9L478.5 424" stroke="#FF3535" stroke-width="4.0"/>
<path d="M476.7 426.9L478.5 424L480 421.4L481.2 419.1L482.3 416.9L483.2 414.9L484.1 413L485 411" stroke="#FF3535" stroke-width="4.25"/>
<path d="M484.1 413L485 411L486 409L487 407L487.9 405.1L489 403.1L490 401L491.1 398.9" stroke="#FF3535" stroke-width="4.5"/>
<path d="M490 401L491.1 398.9L492.2 396.7L493.4 394.5L494.5 392.2L495.7 390" stroke="#FF3535" stroke-width="4.75"/>
<path d="M494.5 392.2L495.7 390L496.8 387.8L497.9 385.7L499 383.5L500.2 381.2" stroke="#FF3535" stroke-width="5.0"/>
<path d="M499 383.5L500.2 381.2L501.4 378.6L502.8 375.7L504.2 372.7L505.8 369.4" stroke="#FF3535" stroke-width="5.25"/>
<path d="M504.2 372.7L505.8 369.4L507.2 366L508.5 362.5L509.6 358.8L510.6 354.9L511.5 350.9L512.4 346.9L513.4 343L514.4 339.1L515.5 335.1L516.6 331.2L517.6 327.4L518.6 324L519.5 320.8L520.3 317.8" stroke="#FF3535" stroke-width="5.5"/>
<path d="M519.5 320.8L520.3 317.8L521 315.1L521.7 312.6L522.4 310.5" stroke="#FF3535" stroke-width="5.75"/>
<path d="M521.7 312.6L522.4 310.5L523 308.8L523.5 307.4L524 306.3" stroke="#FF3535" stroke-width="6.0"/>
<path d="M523.5 307.4L524 306.3L524.5 305.4L525 304.6L525.6 303.8L526.2 303.1" stroke="#FF3535" stroke-width="6.25"/>
<path d="M525.6 303.8L526.2 303.1L526.9 302.5L527.6 302.2L528.2 302.3L528.8 302.7L529.4 303.3L530.1 304.3L530.7 305.6L531.4 307.3" stroke="#FF3535" stroke-width="6.5"/>
<path d="M530.7 305.6L531.4 307.3L532.1 309.5L532.9 312.2L533.7 315.1" stroke="#FF3535" stroke-width="6.25"/>
<path d="M532.9 312.2L533.7 315.1L534.5 318.3L535.3 321.4" stroke="#FF3535" stroke-width="6.0"/>
<path d="M534.5 318.3L535.3 321.4L536.1 324.7L536.9 328.3" stroke="#FF3535" stroke-width="5.75"/>
<path d="M536.1 324.7L536.9 328.3L537.7 331.8L538.4 335.2L539.1 338.1L539.7 340.5L540.3 342.6L540.8 344.3L541.2 345.8L541.7 347.1L542.1 348.2L542.5 349.1L542.9 349.7L543.2 349.9" stroke="#FF3535" stroke-width="5.5"/>
<path d="M542.9 349.7L543.2 349.9L543.6 349.7" stroke="#FF3535" stroke-width="5.25"/>
<path d="M543.2 349.9L543.6 349.7L544 349L544.4 348" stroke="#FF3535" stroke-width="5.0"/>
<path d="M544 349L544.4 348L544.8 346.5" stroke="#FF3535" stroke-width="4.75"/>
<path d="M544.4 348L544.8 346.5L545.2 344.5" stroke="#FF3535" stroke-width="4.5"/>
<path d="M544.8 346.5L545.2 344.5L545.6 342L546 338.8" stroke="#FF3535" stroke-width="4.25"/>
<path d="M545.6 342L546 338.8L546.3 334.9L546.7 330.6L547.1 326.1L547.5 321.4L548 316.6L548.5 311.4L549 306.1" stroke="#FF3535" stroke-width="4.0"/>
<path d="M548.5 311.4L549 306.1L549.6 300.8L550.1 295.7L550.6 290.7L551.2 285.7L551.7 280.8L552.3 276.1L552.9 271.4L553.6 266.7" stroke="#FF3535" stroke-width="4.25"/>
<path d="M552.9 271.4L553.6 266.7L554.3 262L555 257.4L555.7 253.4L556.4 250L557 247.2L557.5 244.9L558 243.2L558.5 242.2L559 242.1L559.5 243.1" stroke="#FF3535" stroke-width="4.5"/>
<path d="M559 242.1L559.5 243.1L560 245L560.5 247.6" stroke="#FF3535" stroke-width="4.25"/>
<path d="M560 245L560.5 247.6L560.9 250.8L561.4 254.3L561.9 258.4L562.3 263.3L562.8 268.5L563.2 273.7L563.6 278.6L563.9 282.9L564.2 286.8L564.5 290.8L564.7 295L565 300L565.3 305.9L565.5 312.5L565.8 319.5L566.1 326.4L566.4 332.9L566.8 339.1L567.3 345.4L567.8 351.4L568.2 356.8L568.6 361.4L568.9 365.3L569.1 368.8L569.3 371.5L569.5 373.1L569.8 373.2L570.2 371.7L570.6 368.7L571.1 364.5L571.6 359.6L572.1 354.3L572.7 348L573.3 340.5L573.9 332.7L574.5 325.1L575 318.6L575.5 313.3L575.9 308.6L576.4 304.4L576.8 300.6L577.1 297.1L577.4 293.8L577.6 290.9L577.8 288.3L578 286.1L578.2 284.3L578.5 282.9L578.9 281.8L579.2 281.1L579.6 280.7L580 280.7L580.4 281" stroke="#FF3535" stroke-width="4.0"/>
<path d="M580 280.7L580.4 281L580.8 281.6L581.1 282.6L581.5 284L581.9 285.7L582.2 287.8L582.6 290.2L582.9 293L583.2 296.3L583.6 300L584 304.4L584.4 309.3L584.8 314.7L585.2 320.2L585.7 325.7L586.2 331.3L586.8 337.3L587.5 343.2L588.1 349L588.6 354.3L589.1 359.2L589.5 363.7L589.9 368L590.3 372L590.7 375.7L591 378.6L591.3 380.6L591.6 382.6L591.9 385.5L592.3 390L592.7 396.6L593.2 404.9L593.7 413.9L594.2 423.2" stroke="#FF3535" stroke-width="3.75"/>
<path d="M593.7 413.9L594.2 423.2L594.6 432L595 441.6L595.3 452.4L595.6 462.6L596 470.1L596.3 473L596.6 470.1L597 462.6" stroke="#FF3535" stroke-width="3.5"/>
<path d="M596.6 470.1L597 462.6L597.3 452.4L597.7 441.6L598 432L598.4 423.6L598.7 415L599.1 406.4L599.5 398L599.8 390L600.1 382.2L600.5 374.4L600.8 367L601.1 360.2L601.4 354.3L601.6 348.9L601.8 343.8L602 339.6L602.2 336.8L602.4 335.7L602.7 337L603.1 340.3L603.5 344.9L603.9 349.8L604.3 354.3L604.7 358.6L605.2 363.1L605.6 367.7L606.1 372L606.4 375.7L606.6 378.8L606.8 381.6L606.9 384L607 385.8L607.2 387L607.4 387.6L607.7 387.6L608 387L608.3 385.9L608.6 384.3L609 382.3L609.4 379.9L609.9 376.9L610.3 373.2L610.7 368.6L611 363L611.3 356.6L611.6 349.4L611.8 341.5L612.1 332.9L612.3 322.1L612.6 309L612.8 296L613 285.4L613.3 279.4L613.6 279.4L614 283.9L614.3 290.8L614.7 298.3L615 304.3" stroke="#FF3535" stroke-width="3.25"/>
<path d="M614.7 298.3L615 304.3L615.3 309.2L615.6 314.2L615.8 318.9L616 322.9L616.2 325.8" stroke="#FF3535" stroke-width="3.0"/>
</g>
<g clip-path="url(#c)" fill="none" stroke-linejoin="round" stroke-width="1.35" stroke-dasharray="3.8 4.4">
<path d="M322 382C322.3 381.9 322.4 381.8 324 381.4C325.6 380.9 328.7 380.3 331.4 379.3C334.1 378.3 337.4 376.8 340 375.4C342.6 374 344.9 372.3 347.1 370.9C349.3 369.5 351.2 368.8 353.4 367C355.6 365.2 357.7 363.1 360.3 359.9C362.9 356.7 366.3 351.4 368.9 347.7C371.5 343.9 373.4 341.1 375.7 337.4C378 333.7 380.3 330 382.6 325.4C384.9 320.8 387.3 315.1 389.4 310C391.5 304.9 393.5 299.8 395.4 294.6C397.3 289.5 398.9 284 400.6 279.1C402.3 274.2 403.8 269.7 405.5 265.5C407.2 261.3 408.8 258.1 410.6 254C412.4 249.9 414.2 245.6 416.1 241.2C418 236.8 419.8 231.8 421.7 227.3C423.6 222.8 425.4 218.6 427.3 214.3C429.2 210 431.3 204.7 432.9 201.3C434.4 197.9 435.2 196 436.6 193.9C438 191.8 439.7 190.3 441.2 188.5C442.7 186.7 444 185.3 445.7 182.9C447.4 180.5 449.5 176.8 451.4 174.3C453.3 171.8 455.2 169.5 457.1 167.9C459 166.3 460.5 166 462.9 165C465.3 164 468.5 163 471.4 162.1C474.2 161.2 477.1 160 480 159.3C482.9 158.6 485.8 158.5 488.6 157.9C491.5 157.3 494.7 156.6 497.1 155.7C499.5 154.8 501.2 153.1 502.9 152.4C504.6 151.7 505.4 151.4 507.1 151.7C508.8 152 511 152.7 512.9 154.3C514.8 155.9 516.9 158.6 518.6 161.4C520.3 164.2 521.7 168.1 522.9 171.4C524.1 174.7 524.8 177.6 525.7 181.4C526.7 185.2 527.7 189.5 528.6 194.3C529.5 199.1 530.5 204.5 531.4 210C532.3 215.5 533.4 222.3 534.3 227.1C535.2 231.9 536 234.9 537 239C538 243.1 538.8 247.2 540 251.4C541.2 255.6 542.9 260.6 544.3 264.3C545.7 268 547.3 270.4 548.6 273.5C549.9 276.6 550.8 279.6 552 282.9C553.2 286.2 554.8 289.9 555.9 293.1C557 296.3 557.5 298.5 558.4 302.1C559.2 305.8 560.1 311.1 561 315C561.9 318.9 562.6 320.7 563.6 325.3C564.6 329.9 565.8 338.5 567.1 342.9C568.4 347.2 570 349 571.4 351.4C572.8 353.8 574.5 354.7 575.7 357.1C576.9 359.5 577.8 363.6 578.6 365.7C579.4 367.8 579.9 367.6 580.5 370C581.1 372.4 581.6 376.4 582.1 380.3C582.6 384.2 583.2 388.4 583.7 393.1C584.2 397.8 584.5 403.9 585 408.6C585.5 413.3 586.1 417.1 586.6 421.4C587.1 425.7 587.5 430 587.9 434.3C588.3 438.6 588.8 442.8 589.2 447.1C589.6 451.4 590 455.5 590.5 460C591 464.5 591.5 469.7 592 474C592.5 478.3 593.1 482.3 593.5 486C593.9 489.7 594.4 494.3 594.6 496" stroke="#FF1493"/>
<path d="M326 383C326.4 382.9 326.5 382.6 328.6 382.1C330.7 381.6 335.3 380.7 338.6 380C341.9 379.3 345.5 378.8 348.6 377.9C351.7 376.9 354.4 375.6 357.1 374.3C359.8 373 362.4 371.6 364.8 370C367.2 368.4 369.4 366.7 371.4 365C373.3 363.3 374.4 361.9 376.5 359.9C378.6 357.9 381.6 355.8 384.3 352.9C387 350 390 346.9 392.9 342.6C395.8 338.3 398.5 332.2 401.4 327.1C404.2 322 407.1 316.8 410 311.7C412.9 306.6 415.8 301.4 418.6 296.3C421.5 291.2 424.2 285.8 427.1 280.9C430 276 432.8 271.4 435.7 267.1C438.6 262.8 442 258.3 444.3 255.1C446.6 251.9 447.5 250.5 449.6 247.7C451.7 244.9 454.5 241.1 457 238.4C459.5 235.7 462.5 233.1 464.4 231.5C466.3 229.9 466 230.8 468.6 228.6C471.2 226.4 476.2 221.9 480 218.6C483.8 215.3 488.1 211.5 491.4 208.6C494.7 205.7 497.6 203.1 500 201.4C502.4 199.7 504 198.9 505.7 198.3C507.4 197.7 508.6 197.5 510 197.9C511.4 198.3 512.6 199.4 514.3 200.7C516 202 518.3 203.2 520 205.7C521.7 208.2 523.1 212.1 524.3 215.7C525.5 219.3 526 222.6 527.1 227.1C528.2 231.6 529.5 237.4 530.7 242.9C531.9 248.4 533 254.3 534.3 260C535.6 265.7 537.6 273.3 538.6 277.1C539.6 280.9 539.5 279.8 540.4 282.9C541.3 286 542.8 291.6 544.3 295.7C545.8 299.8 547.7 303.6 549.4 307.3C551.1 311 553.1 314.6 554.6 317.6C556.1 320.6 557.3 322.5 558.4 325.3C559.5 328.1 560.1 330.7 561 334.3C561.9 337.9 562.8 343.5 563.6 347.1C564.5 350.7 565.3 353 566.1 356.1C566.9 359.2 567.2 363.1 568.6 365.7C570 368.2 572.8 369.6 574.3 371.4C575.8 373.2 576.6 374.3 577.6 376.4C578.6 378.5 579.5 380.9 580.2 384.1C581 387.3 581.5 391.6 582.1 395.7C582.7 399.8 583.2 404.3 583.7 408.6C584.2 412.9 584.9 417.1 585.4 421.4C585.9 425.7 586.5 430 587 434.3C587.5 438.6 588.1 442.8 588.6 447.1C589.1 451.4 589.4 455.5 589.9 460C590.4 464.5 591 470 591.5 474.3C592 478.6 592.5 482.2 593 486C593.5 489.8 593.9 493.8 594.2 497C594.5 500.2 594.8 503.8 594.9 505.1" stroke="#CD661D"/>
<path d="M326 385C326.4 385 326.5 384.8 328.6 385C330.7 385.2 335 385.8 338.6 386.1C342.2 386.5 346.4 386.9 350 387.1C353.6 387.3 357.1 387.2 360 387.1C362.9 387 364.7 386.9 367.1 386.4C369.5 385.9 371.7 385.1 374.3 384.3C376.9 383.5 380.3 382.5 382.9 381.4C385.5 380.3 387.6 379.2 390 377.9C392.4 376.6 395.2 375 397.1 373.6C399 372.2 399.2 371.8 401.4 369.5C403.5 367.2 407.1 362.9 410 359.7C412.9 356.5 415.8 353.7 418.6 350.3C421.5 346.9 424.2 342.8 427.1 339.1C430 335.4 432.8 331.9 435.7 328C438.6 324.1 441.4 319.9 444.3 316C447.2 312.1 450 308.6 452.9 304.9C455.8 301.2 458.7 297.1 461.4 293.7C464.1 290.3 467.4 286.4 469.1 284.3C470.8 282.2 468.6 285.4 471.4 281.4C474.2 277.3 481.4 265.9 485.7 260C490 254.1 493.5 249.3 497.1 245.7C500.7 242.1 504.5 240 507.1 238.6C509.7 237.2 511 237.2 512.9 237.4C514.8 237.6 516.7 238.4 518.6 240C520.5 241.6 522.8 244.2 524.3 247.1C525.8 249.9 526.9 252.9 527.9 257.1C528.9 261.4 529.3 268.1 530.1 272.6C530.9 277.1 531.8 280.2 532.7 284.1C533.6 288 534.4 291.8 535.3 295.7C536.2 299.6 536.8 303.2 537.9 307.3C539 311.4 540.4 316.7 541.7 320.1C543 323.5 544.1 325.3 545.6 327.9C547.1 330.5 549 332.8 550.7 335.6C552.4 338.4 554.6 342.2 555.9 344.6C557.2 347 557.7 347.2 558.6 350C559.5 352.8 560.5 357.8 561.4 361.4C562.3 365 563.2 368.3 564.3 371.4C565.4 374.5 566.8 377.6 567.9 380C569 382.4 570 385.1 571.2 386.1C572.4 387.1 574 385.4 575.1 386.1C576.2 386.9 576.8 388.4 577.6 390.6C578.5 392.9 579.3 396.2 580.2 399.6C581.1 403 582 407.5 582.8 411.1C583.5 414.7 584.1 417.5 584.7 421.4C585.3 425.3 586.1 430 586.6 434.3C587.1 438.6 587.5 442.8 587.9 447.1C588.3 451.4 588.7 455.5 589.2 460C589.7 464.5 590.4 469.7 591 474C591.6 478.3 592.3 482.2 592.8 486C593.3 489.8 593.6 493.2 594 497C594.4 500.8 594.8 506.7 594.9 508.6" stroke="#00688B"/>
<path d="M335 388C335.6 388.1 336.6 388.2 338.6 388.6C340.6 389.1 344 389.9 347.1 390.7C350.2 391.5 354 392.7 357.1 393.6C360.2 394.6 363.3 395.6 365.7 396.4C368.1 397.2 369 397.9 371.4 398.6C373.8 399.3 377.1 400 380 400.4C382.9 400.8 386 401.1 388.6 401.1C391.2 401.2 393.3 401 395.7 400.7C398.1 400.4 400.5 400 402.9 399.3C405.3 398.6 406.7 398.7 410 396.4C413.3 394.1 417.7 390.3 422.9 385.7C428.1 381.1 436.4 374.1 441.4 368.6C446.4 363.1 449.6 357.5 452.9 352.9C456.2 348.3 458.7 344.6 461.4 340.9C464.1 337.2 466 335.4 469.1 330.6C472.2 325.9 477.1 317.1 480 312.4C482.9 307.6 484.2 305.5 486.4 302.1C488.5 298.7 490.8 295.3 492.9 291.9C495 288.5 497.2 284.6 499.3 281.6C501.4 278.6 503.6 275.6 505.7 273.9C507.8 272.2 510 271.3 512.1 271.3C514.2 271.3 516.7 272.4 518.6 273.9C520.5 275.4 522.3 277.7 523.7 280.3C525.1 282.9 526 286.3 526.9 289.3C527.8 292.3 528.2 295.5 528.9 298.3C529.6 301.1 530 302.4 531 306C532 309.6 533.7 314.8 535 320C536.3 325.2 537.8 332.7 539 337C540.2 341.3 540.9 343.8 542 346C543.1 348.2 544.4 347.9 545.7 350C547 352.1 548.6 356 550 358.6C551.4 361.2 552.9 363.8 554.3 365.7C555.7 367.6 557.4 367.9 558.6 370C559.8 372.1 560.7 376.5 561.4 378.6C562.1 380.8 562 380.3 562.9 382.9C563.8 385.5 565.4 391.5 566.7 394.4C568 397.3 569.3 399.5 570.6 400.2C571.9 400.9 573.2 398 574.4 398.3C575.6 398.6 576.5 400 577.6 402.1C578.7 404.2 580 407.9 580.9 411.1C581.8 414.3 582.2 417.5 582.8 421.4C583.4 425.3 584.1 430 584.7 434.3C585.3 438.6 586.1 442.8 586.6 447.1C587.1 451.4 587.3 455.5 587.9 460C588.5 464.5 589.3 469.7 590 474C590.7 478.3 591.4 482.2 592 486C592.6 489.8 593.1 493.7 593.5 497C593.9 500.3 594.3 503.3 594.6 506C594.9 508.7 595.3 511.9 595.4 513.1" stroke="#FF3535"/>
</g>
<g fill="none" stroke-linejoin="round" stroke-width="1.3" stroke-dasharray="3 0.9">
<path d="M595.4 500.6L597.7 502.3L599.5 500.5L601.1 501.5L603.4 497.1L605.1 490.3L606.2 491.2L607.4 489.7L609.7 493.7L610.8 493L612 496L613.7 494.9" stroke="#FF1493"/>
<path d="M594.9 505.1L596.6 507.6L598 506.4L599.4 507.6L602.3 505.1L604.6 498.3L606.3 495.4L607.7 497.8L609.1 498.3L611.4 500.8L613.7 498.3" stroke="#CD661D"/>
<path d="M594.9 508.6L597.1 512.2L598.6 511L600 512.2L602.9 509.7L605.1 501.7L606.9 498.9L608 501L609.1 501.7L611.4 505.3L613.7 502.3" stroke="#00688B"/>
<path d="M595.4 513.1L597.1 516.8L598.6 515L600 515.8L602.9 513.1L605.1 506.3L606.9 504L608 506.5L609.1 507.4L611.4 511L613.1 505.1" stroke="#FF3535"/>
</g>
<circle cx="448.4" cy="361.4" r="6" fill="#FF1493"/>
<path d="M448.4 398.9L455.6 411.2L441.2 411.2Z" fill="#CD661D" stroke="#CD661D" stroke-width="1.2" stroke-linejoin="miter"/>
<path d="M448.4 434.6L456.9 451.5L439.9 451.5ZM448.4 454L456.9 437.1L439.9 437.1Z" fill="none" stroke="#00688B" stroke-width="1.7" stroke-linejoin="miter"/>
<path d="M448.4 479.3L456.6 465.4L440.2 465.4Z" fill="none" stroke="#FF3535" stroke-width="1.7" stroke-linejoin="miter"/>
<g fill="none" stroke="#000">
<path d="M166.3 33.5H633.7V550" stroke-width="1.25"/>
<path d="M166.3 33V549.9H634.3" stroke-width="2.1"/>
<path d="M149.5 548H166M149.5 462.5H166M149.5 377H166M149.5 291.5H166M149.5 206H166M149.5 120.5H166M149.5 35H166" stroke-width="2"/>
<path d="M216.3 549V567.3M325.1 549V567.3M433.9 549V567.3M542.7 549V567.3" stroke-width="2"/>
<path d="M173 549V558.7M192.2 549V558.7M199.4 549V558.7M205.8 549V558.7M211.3 549V558.7M249.1 549V558.7M268.2 549V558.7M281.8 549V558.7M301 549V558.7M308.2 549V558.7M314.6 549V558.7M320.1 549V558.7M357.9 549V558.7M377 549V558.7M390.6 549V558.7M409.8 549V558.7M417 549V558.7M423.4 549V558.7M428.9 549V558.7M466.7 549V558.7M485.8 549V558.7M499.4 549V558.7M518.6 549V558.7M525.8 549V558.7M532.2 549V558.7M537.7 549V558.7M575.5 549V558.7M594.6 549V558.7M608.2 549V558.7M627.4 549V558.7" stroke-width="1.3"/>
<path d="M183.5 549V562.5M292.3 549V562.5M401.1 549V562.5M509.9 549V562.5M618.7 549V562.5" stroke-width="1.8" stroke="#444"/>
</g>
<text x="216.3" y="610" font-size="30.5" text-anchor="middle">1e−01</text>
<text x="325.1" y="610" font-size="30.5" text-anchor="middle">1e+00</text>
<text x="433.9" y="610" font-size="30.5" text-anchor="middle">1e+01</text>
<text x="542.7" y="610" font-size="30.5" text-anchor="middle">1e+02</text>
<text transform="translate(127.3 548) rotate(-90)" font-size="30.5" text-anchor="middle">1.0</text>
<text transform="translate(127.3 462.5) rotate(-90)" font-size="30.5" text-anchor="middle">1.5</text>
<text transform="translate(127.3 377) rotate(-90)" font-size="30.5" text-anchor="middle">2.0</text>
<text transform="translate(127.3 291.5) rotate(-90)" font-size="30.5" text-anchor="middle">2.5</text>
<text transform="translate(127.3 206) rotate(-90)" font-size="30.5" text-anchor="middle">3.0</text>
<text transform="translate(127.3 120.5) rotate(-90)" font-size="30.5" text-anchor="middle">3.5</text>
<text transform="translate(127.3 35) rotate(-90)" font-size="30.5" text-anchor="middle">4.0</text>
<text x="400" y="666.6" font-size="33.8" text-anchor="middle">(t−t<tspan font-size="24" dy="5.5">0</tspan><tspan dy="-5.5">)/τ</tspan><tspan font-size="24.5" dy="5.5">η</tspan></text>
<g transform="translate(50 291.5) rotate(-90)">
<text x="-240.8" y="0" font-size="33" xml:space="preserve">d</text>
<text x="-209.7" y="0" font-size="33" xml:space="preserve">d</text>
<text x="-184.1" y="0" font-size="33" xml:space="preserve">log(t) [lo</text>
<text x="-63.5" y="0" font-size="33" xml:space="preserve">g</text>
<text x="-39.5" y="0" font-size="33" xml:space="preserve">&lt;</text>
<text x="-20.2" y="0" font-size="33" xml:space="preserve">(</text>
<text x="-0.2" y="0" font-size="33" xml:space="preserve">ξ − ξ</text>
<text x="67.2" y="5.7" font-size="23.5" xml:space="preserve">0</text>
<text x="87.9" y="0" font-size="33" xml:space="preserve">)</text>
<text x="100.3" y="-13.8" font-size="23.5" xml:space="preserve">2</text>
<text x="118.4" y="0" font-size="33" xml:space="preserve">&gt;</text>
<text x="137.4" y="0" font-size="33" xml:space="preserve">/</text>
<text x="156.3" y="0" font-size="33" xml:space="preserve">η</text>
<text x="177.8" y="5.3" font-size="23.5" xml:space="preserve">kol</text>
<text x="205.4" y="-14" font-size="23.5" xml:space="preserve">2</text>
<text x="228.5" y="0" font-size="33" xml:space="preserve">]</text>
<path d="M205.9 9.6H220.5M213.2 9.6V-5.9" stroke="#000" stroke-width="1.25" fill="none"/>
<path d="M-219.9 5L-212.1 -27.1" stroke="#000" stroke-width="1.5" fill="none"/>
</g>
<text x="608.4" y="67.8" font-size="28.5" text-anchor="middle">(a)</text>
<rect x="183.6" y="69.5" width="148.9" height="149.4" fill="#FAEBD7" stroke="#000" stroke-width="1.2"/>
<line x1="190.3" y1="99.5" x2="236" y2="99.5" stroke="#FF1493" stroke-width="2.1" stroke-linecap="round"/>
<line x1="190.3" y1="129.3" x2="236" y2="129.3" stroke="#CD661D" stroke-width="2.1" stroke-linecap="round"/>
<line x1="190.3" y1="159.4" x2="236" y2="159.4" stroke="#00688B" stroke-width="2.1" stroke-linecap="round"/>
<line x1="190.3" y1="189.4" x2="236" y2="189.4" stroke="#FF3535" stroke-width="2.1" stroke-linecap="round"/>
<circle cx="213" cy="99.5" r="5.6" fill="#FF1493"/>
<path d="M213 121.5L220 133.5L206 133.5Z" fill="#CD661D" stroke="#CD661D" stroke-width="1" stroke-linejoin="miter"/>
<path d="M213 150.8L220.5 165.8L205.5 165.8ZM213 168L220.5 153L205.5 153Z" fill="none" stroke="#00688B" stroke-width="1.7" stroke-linejoin="miter"/>
<path d="M213 198.1L220.3 185.7L205.7 185.7Z" fill="none" stroke="#FF3535" stroke-width="1.7" stroke-linejoin="miter"/>
<text x="258.7" y="106.7" font-size="25.5">2η<tspan font-size="18.5" dy="5">kol</tspan></text>
<text x="258.7" y="136" font-size="25.5">4η<tspan font-size="18.5" dy="5">kol</tspan></text>
<text x="258.7" y="165.8" font-size="25.5">8η<tspan font-size="18.5" dy="5">kol</tspan></text>
<text x="258.7" y="195.7" font-size="25.5">16η<tspan font-size="18.5" dy="5">kol</tspan></text>
<rect x="183.6" y="462.6" width="201.3" height="59.1" fill="#FAEBD7" stroke="#000" stroke-width="1.2"/>
<line x1="187.6" y1="482" x2="218.4" y2="482" stroke="#000" stroke-width="2.4"/>
<line x1="187.6" y1="501.9" x2="218.4" y2="501.9" stroke="#000" stroke-width="2.4" stroke-dasharray="9.8 6.4"/>
<text x="234.1" y="488.3" font-size="16.5">2048<tspan font-size="11.5" dy="-6">3</tspan><tspan dy="6">, Re=21000</tspan></text>
<text x="234.1" y="508.8" font-size="16.5">HD 1024<tspan font-size="11.5" dy="-6">3</tspan><tspan dy="6">, Re=10400</tspan></text>
</svg></body></html>
